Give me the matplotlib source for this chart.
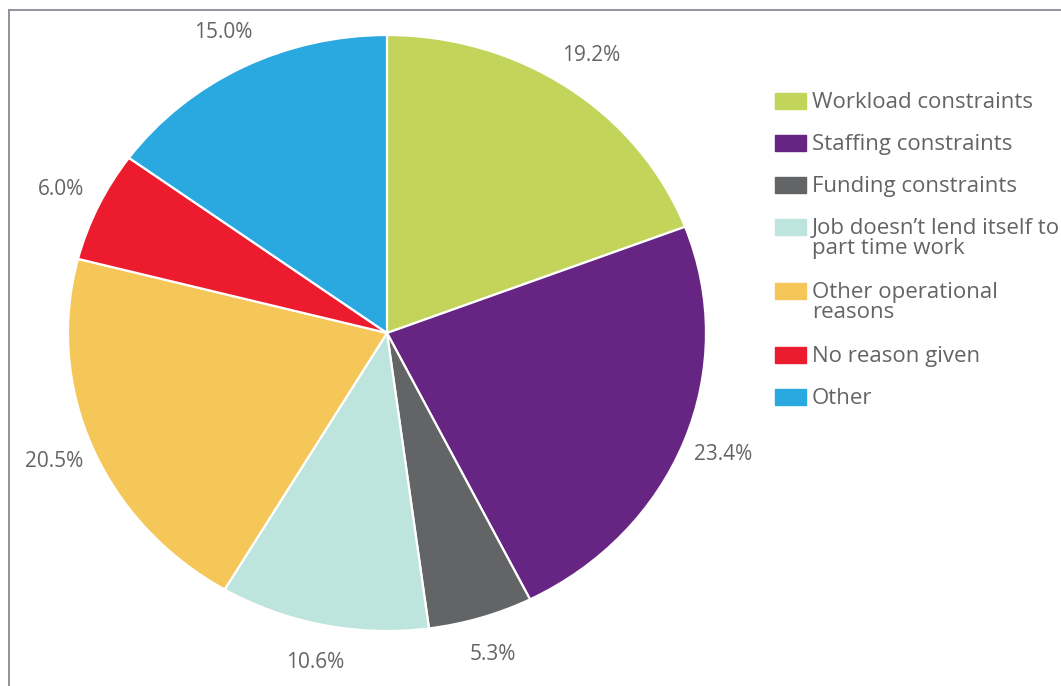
import matplotlib.pyplot as plt
from matplotlib.lines import Line2D
from matplotlib.patches import Rectangle

reasons = [
    "Workload constraints",
    "Staffing constraints",
    "Funding constraints",
    "Job doesn\u2019t lend itself to\npart time work",
    "Other operational\nreasons",
    "No reason given",
    "Other",
]
shares = [19.2, 23.4, 5.3, 10.6, 20.5, 6.0, 15.0]
colors = ["#c2d55a", "#662483", "#636466", "#bde4dd", "#f5c658", "#ec1c2e", "#29a9e0"]

TEXT = "#636466"
W, H = 1061, 686

plt.rcParams["font.family"] = ["Open Sans", "DejaVu Sans"]

fig = plt.figure(figsize=(W / 100, H / 100), dpi=100)

# pie is stretched a little wider than tall, so axes are not square
rx, ry = 319, 298
cx, cy = 387, H - 333
ax = fig.add_axes([(cx - 1.1 * rx) / W, (cy - 1.1 * ry) / H, 2.2 * rx / W, 2.2 * ry / H])
ax.pie(
    shares,
    colors=colors,
    startangle=90,
    counterclock=False,
    labels=[f"{v:.1f}%" for v in shares],
    labeldistance=1.13,
    textprops=dict(color=TEXT, fontsize=15, ha="center", va="center"),
    wedgeprops=dict(edgecolor="white", linewidth=1.6),
)
for t in ax.texts:
    t.set_horizontalalignment("center")
ax.set_xlim(-1.1, 1.1)
ax.set_ylim(-1.1, 1.1)
ax.set_aspect("auto")
ax.axis("off")

# legend built by hand so the swatch sits on the first line of each label
y = 101
for label, c in zip(reasons, colors):
    fig.patches.append(Rectangle((775 / W, 1 - (y + 8) / H), 31 / W, 16 / H,
                                 transform=fig.transFigure, color=c))
    fig.text(812 / W, 1 - (y - 9) / H, label, color=TEXT, fontsize=16,
             va="top", ha="left", linespacing=0.92)
    y += 42 + 22 * label.count("\n")

# frame around the panel
frame = "#8a8a96"
fig.lines.append(Line2D([9 / W, 1], [1 - 10 / H, 1 - 10 / H], transform=fig.transFigure,
                        color=frame, linewidth=1.3))
fig.lines.append(Line2D([9 / W, 9 / W], [0, 1 - 10 / H], transform=fig.transFigure,
                        color=frame, linewidth=1.3))

fig.savefig("out.png", dpi=100)
